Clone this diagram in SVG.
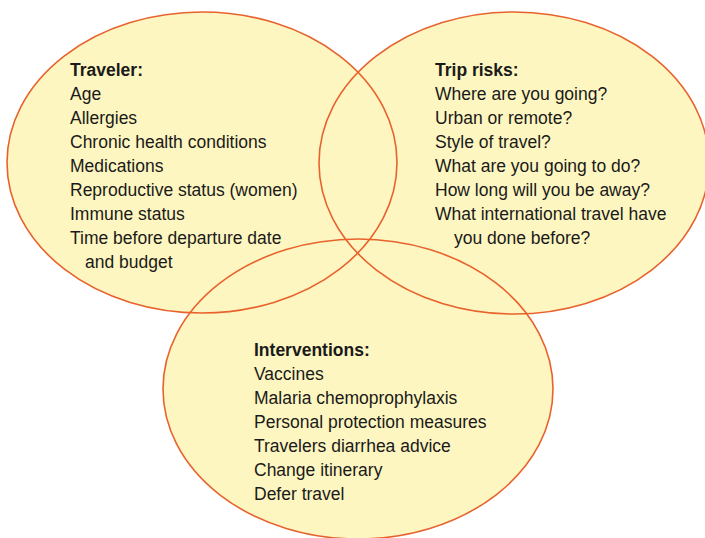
<svg xmlns="http://www.w3.org/2000/svg" width="705" height="538" viewBox="0 0 705 538">
  <style>
    .fill { fill: #FEF6C0; stroke: none; }
    .ring { fill: none; stroke: #E8622E; stroke-width: 1.6; }
    text { font-family: "Liberation Sans", Arial, sans-serif; font-size: 17.5px; fill: #1A1A1A; }
    .head { font-weight: bold; }
  </style>

  <!-- shared fill for the three overlapping sets -->
  <g id="fills">
    <ellipse class="fill" cx="202" cy="162.5" rx="195" ry="150.5"/>
    <ellipse class="fill" cx="514" cy="163" rx="195" ry="151"/>
    <ellipse class="fill" cx="358" cy="389" rx="195" ry="150"/>
  </g>

  <g id="traveler">
    <ellipse class="ring" cx="202" cy="162.5" rx="195" ry="150.5"/>
    <text x="70" y="75.5" class="head">Traveler:</text>
    <text x="70" y="99.5">Age</text>
    <text x="70" y="123.5">Allergies</text>
    <text x="70" y="147.5">Chronic health conditions</text>
    <text x="70" y="171.5">Medications</text>
    <text x="70" y="195.5">Reproductive status (women)</text>
    <text x="70" y="219.5">Immune status</text>
    <text x="70" y="243.5">Time before departure date</text>
    <text x="85" y="267.5">and budget</text>
  </g>

  <g id="trip-risks">
    <ellipse class="ring" cx="514" cy="163" rx="195" ry="151"/>
    <text x="435" y="75.5" class="head">Trip risks:</text>
    <text x="435" y="99.5">Where are you going?</text>
    <text x="435" y="123.5">Urban or remote?</text>
    <text x="435" y="147.5">Style of travel?</text>
    <text x="435" y="171.5">What are you going to do?</text>
    <text x="435" y="195.5">How long will you be away?</text>
    <text x="435" y="219.5">What international travel have</text>
    <text x="454" y="243.5">you done before?</text>
  </g>

  <g id="interventions">
    <ellipse class="ring" cx="358" cy="389" rx="195" ry="150"/>
    <text x="254" y="355.5" class="head">Interventions:</text>
    <text x="254" y="379.5">Vaccines</text>
    <text x="254" y="403.5">Malaria chemoprophylaxis</text>
    <text x="254" y="427.5">Personal protection measures</text>
    <text x="254" y="451.5">Travelers diarrhea advice</text>
    <text x="254" y="475.5">Change itinerary</text>
    <text x="254" y="499.5">Defer travel</text>
  </g>
</svg>
